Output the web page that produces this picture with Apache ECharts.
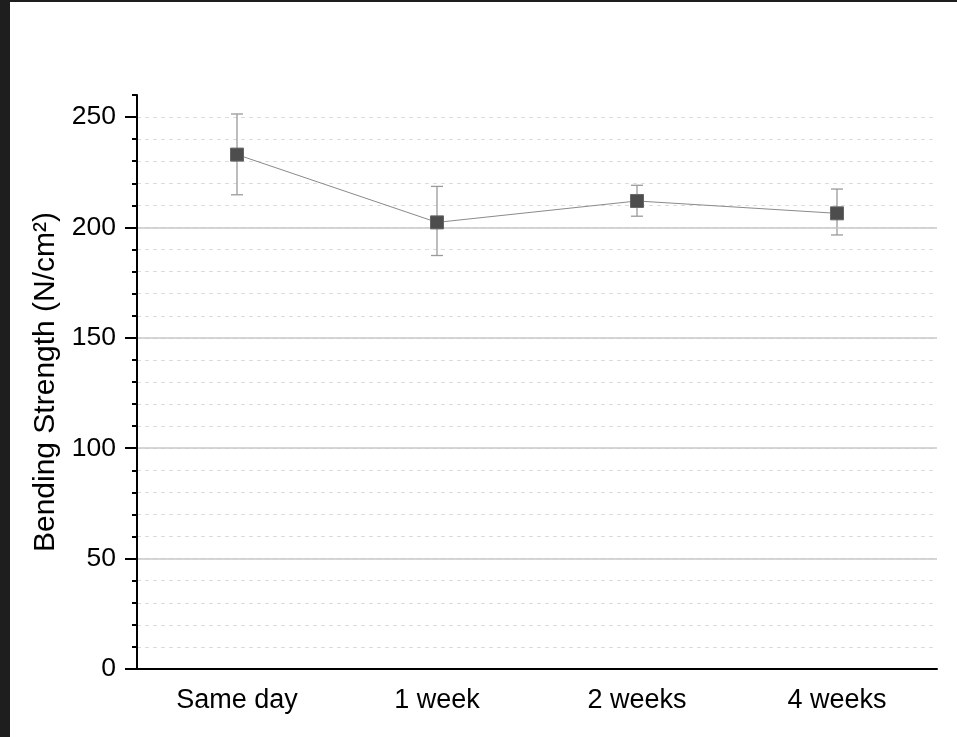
<!DOCTYPE html>
<html><head><meta charset="utf-8">
<script src="https://cdn.jsdelivr.net/npm/echarts@6/dist/echarts.min.js"></script>
<style>html,body{margin:0;padding:0;background:#fff}#c{width:957px;height:737px}</style>
</head><body><div id="c"></div>
<script>
const categories = ['Same day', '1 week', '2 weeks', '4 weeks'];
const means = [233, 202.3, 212, 206.4];
const errLow = [214.8, 187.3, 205.1, 196.6];
const errHigh = [251.4, 218.6, 219.1, 217.4];
const yMajorTicks = [0, 50, 100, 150, 200, 250];
const yTitle = 'Bending Strength (N/cm²)';

const chart = echarts.init(document.getElementById('c'), null, {renderer: 'canvas'});
const font = '"Liberation Sans", Arial, sans-serif';
const errData = categories.map((c, i) => [i, errLow[i], errHigh[i]]);

chart.setOption({
  animation: false,
  backgroundColor: '#fff',
  graphic: [
    {type: 'rect', left: 0, top: 0, shape: {width: 10, height: 737}, style: {fill: '#1e1e1e'}, z: 100},
    {type: 'rect', left: 0, top: 0, shape: {width: 957, height: 2}, style: {fill: '#1e1e1e'}, z: 100}
  ],
  grid: {left: 137, right: 20, top: 95, bottom: 68, containLabel: false},
  xAxis: {
    type: 'category', data: categories, boundaryGap: true, z: 10,
    axisLine: {lineStyle: {color: '#000', width: 2}},
    axisTick: {alignWithLabel: true, length: 10, lineStyle: {color: '#000', width: 2}},
    axisLabel: {color: '#000', fontSize: 27, fontFamily: font, margin: 18},
    splitLine: {show: false}
  },
  yAxis: [
    {
      type: 'value', min: 0, max: 260, interval: 50,
      name: yTitle, nameLocation: 'middle', nameRotate: 90, nameGap: 75,
      nameTextStyle: {color: '#000', fontSize: 30, fontFamily: font},
      axisLine: {show: true, lineStyle: {color: '#000', width: 2}},
      axisTick: {show: true, length: 12, customValues: yMajorTicks, lineStyle: {color: '#000', width: 2}},
      axisLabel: {color: '#000', fontSize: 26.5, fontFamily: font, margin: 21, customValues: yMajorTicks},
      splitLine: {show: true, showMinLine: false, showMaxLine: false, lineStyle: {color: '#c8c8c8', width: 1.5}},
      z: 3
    },
    {
      type: 'value', min: 0, max: 260, interval: 10, position: 'left',
      axisLine: {show: false},
      axisTick: {show: true, length: 5, lineStyle: {color: '#000', width: 2}},
      axisLabel: {show: false},
      splitLine: {show: true, showMinLine: false, showMaxLine: false, lineStyle: {color: '#dcdcdc', width: 1, type: [4, 4]}},
      z: 1
    }
  ],
  series: [
    {
      type: 'custom', yAxisIndex: 0, z: 2,
      renderItem: function (params, api) {
        const x = api.value(0);
        const lo = api.coord([x, api.value(1)]);
        const hi = api.coord([x, api.value(2)]);
        const hw = 6;
        const st = {stroke: '#9a9a9a', lineWidth: 1.3};
        return {type: 'group', children: [
          {type: 'line', shape: {x1: lo[0], y1: lo[1], x2: hi[0], y2: hi[1]}, style: st},
          {type: 'line', shape: {x1: lo[0] - hw, y1: lo[1], x2: lo[0] + hw, y2: lo[1]}, style: st},
          {type: 'line', shape: {x1: hi[0] - hw, y1: hi[1], x2: hi[0] + hw, y2: hi[1]}, style: st}
        ]};
      },
      encode: {x: 0, y: [1, 2]},
      data: errData
    },
    {
      type: 'line', yAxisIndex: 0, z: 5, data: means,
      symbol: 'rect', symbolSize: 13,
      lineStyle: {color: '#8a8a8a', width: 1},
      itemStyle: {color: '#4d4d4d', borderColor: '#666', borderWidth: 1}
    }
  ]
});
</script></body></html>
